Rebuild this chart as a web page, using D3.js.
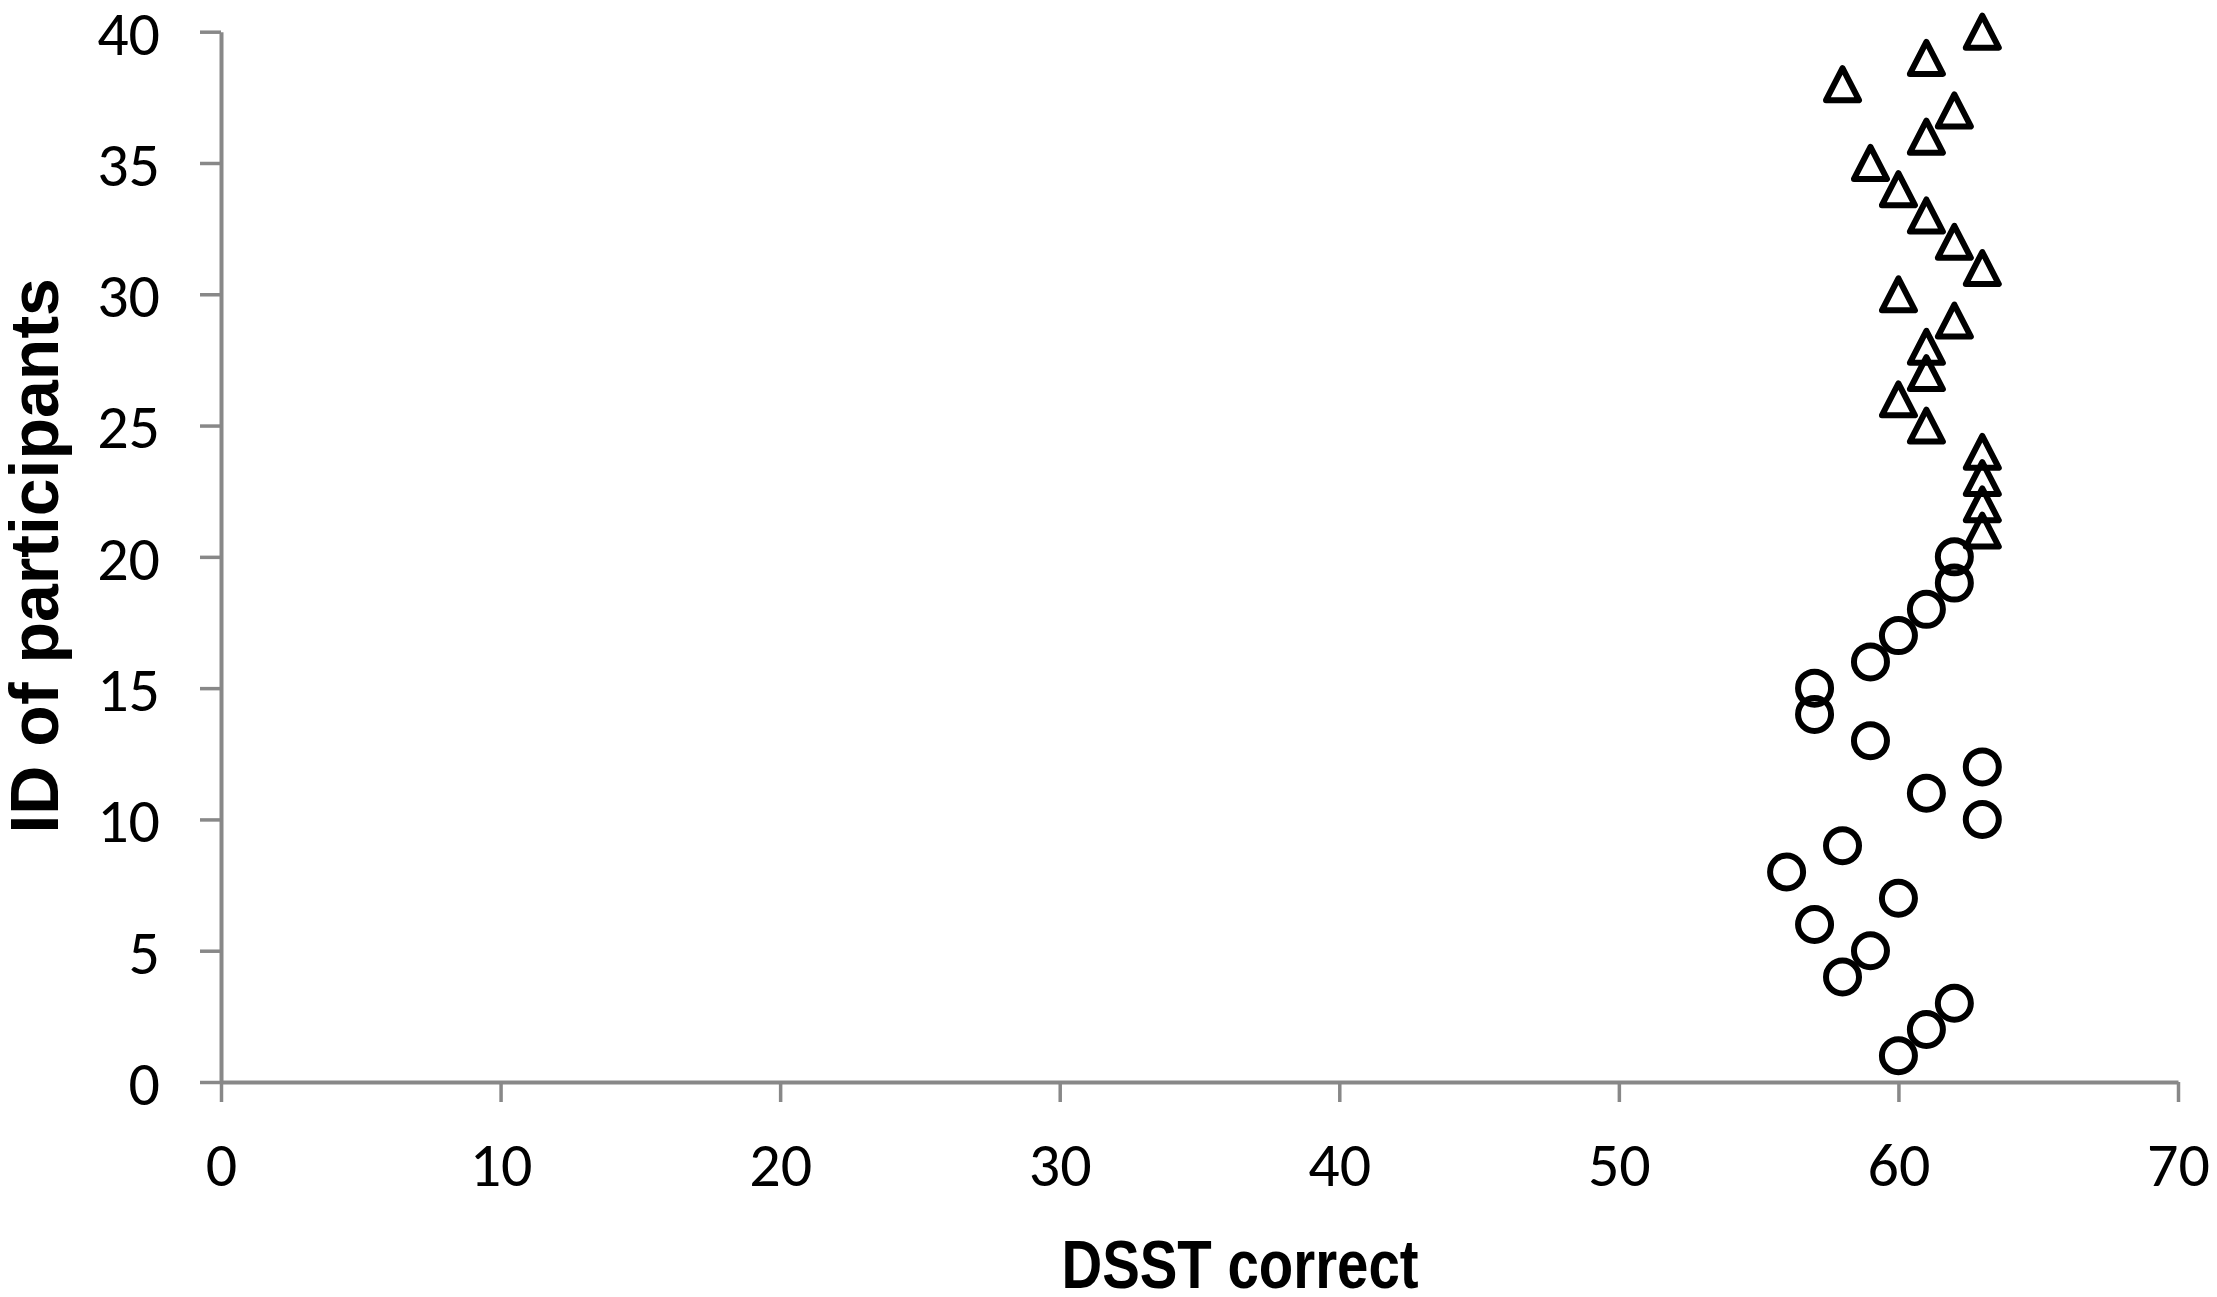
<!DOCTYPE html>
<html>
<head>
<meta charset="utf-8">
<script src="https://cdn.jsdelivr.net/npm/d3@7"></script>
<style>
    html, body { margin: 0; padding: 0; background: #ffffff; }
    #container { width: 2217px; height: 1297px; }
</style>
</head>
<body>
<div id="container"></div>
<script>
// participant ids and their DSST correct scores
var circleIds = [1, 2, 3, 4, 5, 6, 7, 8, 9, 10, 11, 12, 13, 14, 15, 16, 17, 18, 19, 20];
var circleScores = [60, 61, 62, 58, 59, 57, 60, 56, 58, 63, 61, 63, 59, 57, 57, 59, 60, 61, 62, 62];
var triangleIds = [21, 22, 23, 24, 25, 26, 27, 28, 29, 30, 31, 32, 33, 34, 35, 36, 37, 38, 39, 40];
var triangleScores = [63, 63, 63, 63, 61, 60, 61, 61, 62, 60, 63, 62, 61, 60, 59, 61, 62, 58, 61, 63];
var xTicks = [0, 10, 20, 30, 40, 50, 60, 70];
var yTicks = [0, 5, 10, 15, 20, 25, 30, 35, 40];
var xTitle = "DSST correct";
var yTitle = "ID of participants";

var width = 2217, height = 1297;
var axisColor = "#888888";
var tickFont = "Carlito, Calibri, Lato, sans-serif";
var titleFont = "'Liberation Sans', Arial, sans-serif";

var circles = circleIds.map(function (id, i) { return { id: id, score: circleScores[i] }; });
var triangles = triangleIds.map(function (id, i) { return { id: id, score: triangleScores[i] }; });

var x = d3.scaleLinear()
    .domain([0, 70])
    .range([221, 2178]);

var y = d3.scaleLinear()
    .domain([0, 40])
    .range([1082, 31.7]);

var svg = d3.select("div#container")
    .append("svg")
    .attr("width", width)
    .attr("height", height)
    .attr("viewBox", "0 0 " + width + " " + height);

// X axis
var gx = svg.append("g")
    .attr("transform", "translate(0," + y(0) + ")")
    .call(d3.axisBottom(x).tickValues(xTicks).tickSize(20).tickSizeOuter(0));

// Y axis
var gy = svg.append("g")
    .attr("transform", "translate(" + x(0) + ",0)")
    .call(d3.axisLeft(y).tickValues(yTicks).tickSize(21).tickSizeOuter(0).tickPadding(40));

[gx, gy].forEach(function (g) {
    g.select(".domain")
        .attr("stroke", axisColor)
        .attr("stroke-width", 4);
    g.selectAll(".tick line")
        .attr("stroke", axisColor)
        .attr("stroke-width", 3.5);
    g.selectAll(".tick text")
        .attr("fill", "#000")
        .style("font-family", tickFont)
        .style("font-size", "62px");
});

gx.selectAll(".tick text")
    .attr("y", 104)
    .attr("dy", 0);

gy.selectAll(".tick text")
    .attr("dy", "0.36em");

// axis titles
svg.append("text")
    .attr("x", 1240)
    .attr("y", 1288)
    .attr("text-anchor", "middle")
    .attr("textLength", 357)
    .attr("lengthAdjust", "spacingAndGlyphs")
    .style("font-family", titleFont)
    .style("font-weight", "bold")
    .style("font-size", "68px")
    .text(xTitle);

svg.append("text")
    .attr("transform", "translate(58," + (y(20) - 1) + ")rotate(-90)")
    .attr("text-anchor", "middle")
    .style("font-family", titleFont)
    .style("font-weight", "bold")
    .style("font-size", "68px")
    .text(yTitle);

// Circles (ids 1-20)
svg.selectAll("mycircle")
    .data(circles)
    .enter()
    .append("circle")
    .attr("cx", function (d) { return x(d.score); })
    .attr("cy", function (d) { return y(d.id); })
    .attr("r", 16.5)
    .attr("fill", "none")
    .attr("stroke", "#000")
    .attr("stroke-width", 6);

// Triangles (ids 21-40)
var tri = "M0,-16L16.5,16L-16.5,16Z";
svg.selectAll("mytriangle")
    .data(triangles)
    .enter()
    .append("path")
    .attr("d", tri)
    .attr("transform", function (d) { return "translate(" + x(d.score) + "," + y(d.id) + ")"; })
    .attr("fill", "none")
    .attr("stroke", "#000")
    .attr("stroke-width", 6)
    .attr("stroke-linejoin", "round");
</script>
</body>
</html>
